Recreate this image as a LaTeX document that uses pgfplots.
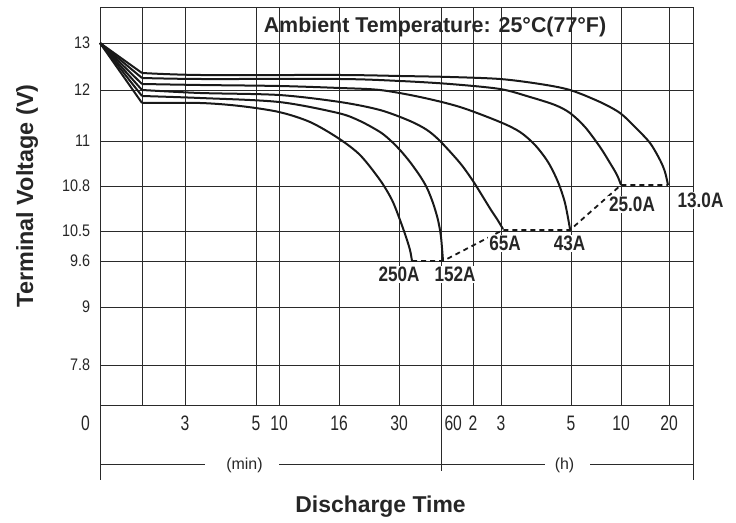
\documentclass[border=0pt]{standalone}
\usepackage{fontspec}
\setmainfont{Liberation Sans}
\newfontfamily\fx[FakeStretch=0.75]{Liberation Sans}
\newfontfamily\fy[FakeStretch=0.86]{Liberation Sans}
\newfontfamily\fc[FakeStretch=0.82]{Liberation Sans}
\usepackage{pgfplots}
\pgfplotsset{compat=1.18}
\definecolor{gridc}{HTML}{2A2A2A}
\begin{document}
\begin{tikzpicture}
\path[use as bounding box] (0,0) rectangle (736bp,523bp);
\begin{axis}[
  at={(100bp,118bp)}, anchor=south west, scale only axis,
  width=593bp, height=398bp,
  xmin=0, xmax=593, ymin=0, ymax=398,
  clip=false,
  /pgf/number format/assume math mode=true,
  xtick={42,85,156,179,239,299,341,373,401,471,521,569},
  xticklabels={,3,5,10,16,30,\makebox[0pt][l]{\hspace{3.5bp}60},2,3,5,10,20},
  ytick={40,98,144,174,219,264,315,362},
  yticklabels={7.8,9,9.6,10.5,10.8,11,12,13},
  grid=major,
  major grid style={gridc, line width=0.8bp},
  major tick length=0pt,
  axis line style={gridc, line width=0.9bp},
  xticklabel style={font=\fx\fontsize{21}{23}\selectfont, text=black!85, anchor=base, yshift=-25bp},
  yticklabel style={font=\fy\fontsize{16.8}{19}\selectfont, text=black!85, xshift=-6.4bp},
]
% initial straight segments
\addplot[black!90, line width=2bp] coordinates {(0,362) (42,332)};
\addplot[black!90, line width=2bp] coordinates {(0,362) (42,327)};
\addplot[black!90, line width=2bp] coordinates {(0,362) (42,321)};
\addplot[black!90, line width=2bp] coordinates {(0,362) (42,315)};
\addplot[black!90, line width=2bp] coordinates {(0,362) (42,309)};
\addplot[black!90, line width=2bp] coordinates {(0,362) (42,302)};
% 13.0A
\addplot[black!90, line width=2bp, smooth] coordinates {(42,332) (100,330) (240,330) (300,329) (350,328) (400,326) (440,321) (470,315) (500,303) (520,292) (535,278) (550,262) (560,245) (565,233) (568,220)};
% 25.0A
\addplot[black!90, line width=2bp, smooth] coordinates {(42,327) (100,326) (240,326) (300,324) (350,321) (400,316) (430,308) (455,300) (470,292) (485,278) (500,258) (510,242) (517,230) (521,220)};
% 43A
\addplot[black!90, line width=2bp, smooth] coordinates {(42,321) (100,320) (179,319) (240,317) (280,315) (320,308) (360,298) (400,283) (420,273) (435,260) (448,243) (458,223) (465,202) (470,176)};
% 65A
\addplot[black!90, line width=2bp, smooth] coordinates {(42,315) (100,312) (179,310) (240,303) (280,295) (310,284) (327,275) (340,264) (360,242) (373,224) (383,208) (391,195) (397,186) (403,176)};
% 152A
\addplot[black!90, line width=2bp, smooth] coordinates {(42,309) (100,307) (179,303) (238,292) (260,284) (280,273) (290,265) (300,255) (310,243) (320,229) (327,217) (333,202) (338,185) (341,168) (343,144)};
% 250A
\addplot[black!90, line width=2bp, smooth] coordinates {(42,302) (100,302) (140,299) (179,293) (210,283) (238,267) (260,250) (280,225) (292,205) (300,185) (306,168) (310,155) (312,144)};
% end-voltage dashed line
\addplot[black!90, line width=1.8bp, dash pattern=on 5bp off 4bp] coordinates {(312,144) (343,144) (403,175) (470,175) (521,220) (568,220)};

% extensions below the grid
\draw[gridc, line width=0.9bp] (axis cs:0,0) -- (axis cs:0,-75);
\draw[gridc, line width=0.9bp] (axis cs:593,0) -- (axis cs:593,-75);
\draw[gridc, line width=0.8bp] (axis cs:341,0) -- (axis cs:341,-66);
\draw[gridc, line width=0.8bp] (axis cs:0,-59) -- (axis cs:105,-59);
\draw[gridc, line width=0.8bp] (axis cs:179,-59) -- (axis cs:445,-59);
\draw[gridc, line width=0.8bp] (axis cs:490,-59) -- (axis cs:593,-59);
\node[font=\fontsize{16}{18}\selectfont, text=black!85] at (axis cs:144.5,-60) {(min)};
\node[font=\fontsize{16}{18}\selectfont, text=black!85] at (axis cs:464.5,-60) {(h)};
\node[font=\fx\fontsize{21}{23}\selectfont, text=black!85, anchor=base] at (axis cs:-14.5,-25) {0};
\node[font=\bfseries\fontsize{23}{25}\selectfont, text=black!85] at (axis cs:280.5,-102) {Discharge Time};
\node[font=\bfseries\fontsize{23.5}{26}\selectfont, text=black!85, rotate=90] at (axis cs:-73,209) {Terminal Voltage (V)};
\node[font=\bfseries\fontsize{21.5}{23}\selectfont, text=black!85] at (axis cs:335,378) {Ambient Temperature: 25°C(77°F)};

\coordinate (L250) at (axis cs:299,130.5);
\coordinate (L152) at (axis cs:355,130.5);
\coordinate (L65) at (axis cs:405,161.5);
\coordinate (L43) at (axis cs:469.5,161.5);
\coordinate (L25) at (axis cs:532,200.5);
\coordinate (L13) at (axis cs:600.5,204.5);
\end{axis}
\begin{scope}[every node/.style={fill=white, inner sep=1.5bp, font=\fc\bfseries\fontsize{21}{23}\selectfont, text=black!85}]
\node at (L250) {250A};
\node at (L152) {152A};
\node at (L65) {65A};
\node at (L43) {43A};
\node at (L25) {25.0A};
\node at (L13) {13.0A};
\end{scope}
\end{tikzpicture}
\end{document}
